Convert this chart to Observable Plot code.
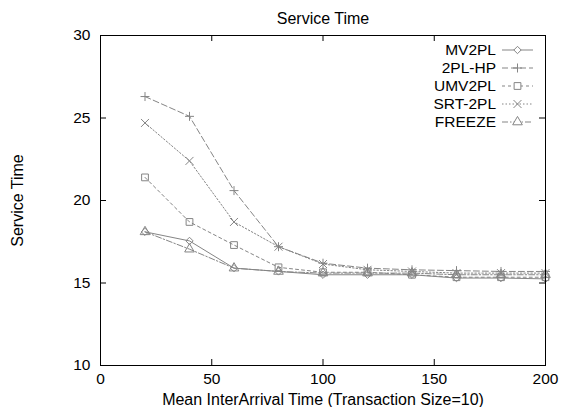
<!DOCTYPE html>
<html>
<head>
<meta charset="utf-8">
<script src="https://cdn.jsdelivr.net/npm/d3@7"></script>
<script src="https://cdn.jsdelivr.net/npm/@observablehq/plot@0.6"></script>
<style>
  html, body { margin: 0; padding: 0; background: #fff; }
  #chart { width: 578px; height: 407px; }
</style>
</head>
<body>
<div id="chart"></div>
<script>
// ---- data ----
const titleText = "Service Time";
const xLabel = "Mean InterArrival Time (Transaction Size=10)";
const yLabel = "Service Time";
const seriesNames = ["MV2PL", "2PL-HP", "UMV2PL", "SRT-2PL", "FREEZE"];
const interArrival = [20, 40, 60, 80, 100, 120, 140, 160, 180, 200];
const mv2pl   = [18.1, 17.55, 15.9, 15.7, 15.5, 15.5, 15.5, 15.3, 15.3, 15.25];
const pl2hp   = [26.3, 25.1, 20.6, 17.2, 16.2, 15.9, 15.8, 15.75, 15.7, 15.7];
const umv2pl  = [21.4, 18.7, 17.3, 15.95, 15.65, 15.65, 15.5, 15.35, 15.35, 15.35];
const srt2pl  = [24.7, 22.4, 18.7, 17.2, 16.15, 15.8, 15.7, 15.6, 15.6, 15.6];
const freeze  = [18.1, 17.05, 15.9, 15.7, 15.6, 15.6, 15.6, 15.5, 15.5, 15.5];
const xTicks = [0, 50, 100, 150, 200];
const yTicks = [10, 15, 20, 25, 30];

// ---- styles ----
const seriesValues = [mv2pl, pl2hp, umv2pl, srt2pl, freeze];
const symbols = ["diamond2", "plus", "square2", "times", "triangle2"];
const symbolR = [3.3, 3.0, 4.3, 3.7, 4.6];
const dashes = [null, "6,3", "3,3", "1.5,2", "6,2,1.5,2"];
const lineColor = "#858585";
const font = "'Liberation Sans', Arial, sans-serif";

const W = 578, H = 407, mL = 100, mR = 33, mT = 35, mB = 42;
const innerW = W - mL - mR, innerH = H - mT - mB;
const tickLen = 6;

const rows = [];
seriesNames.forEach((name, i) => {
  interArrival.forEach((x, j) => rows.push({series: name, x, y: seriesValues[i][j]}));
});

const seriesMarks = seriesNames.flatMap((name, i) => {
  const d = rows.filter(r => r.series === name);
  return [
    Plot.line(d, {x: "x", y: "y", stroke: lineColor, strokeWidth: 1, strokeDasharray: dashes[i]}),
    Plot.dot(d, {x: "x", y: "y", symbol: symbols[i], r: symbolR[i], stroke: lineColor, fill: "none", strokeWidth: 1})
  ];
});

const chart = Plot.plot({
  width: W, height: H,
  marginLeft: mL, marginRight: mR, marginTop: mT, marginBottom: mB,
  style: {fontFamily: font, fontSize: "15px", background: "#fff", color: "#000"},
  x: {domain: [0, 200]},
  y: {domain: [10, 30]},
  marks: [
    Plot.axisX({ticks: xTicks, tickSize: 0, tickPadding: 7, tickFormat: d => d, fontSize: 15.5,
      label: null}),
    Plot.axisX({ticks: [], tickSize: 0, fontSize: 16,
      label: xLabel, labelAnchor: "center", labelArrow: "none", labelOffset: 39}),
    Plot.axisY({ticks: yTicks, tickSize: 0, tickPadding: 10, tickFormat: d => d, fontSize: 15.5,
      label: null}),
    Plot.axisY({ticks: [], tickSize: 0, fontSize: 16,
      label: yLabel, labelAnchor: "center", labelArrow: "none", labelOffset: 89}),
    Plot.tickX(xTicks, {x: d => d, insetTop: innerH - tickLen, stroke: "#000"}),
    Plot.tickX(xTicks, {x: d => d, insetBottom: innerH - tickLen, stroke: "#000"}),
    Plot.tickY(yTicks, {y: d => d, insetRight: innerW - tickLen, stroke: "#000"}),
    Plot.tickY(yTicks, {y: d => d, insetLeft: innerW - tickLen, stroke: "#000"}),
    ...seriesMarks,
    Plot.frame({stroke: "#000"}),
    Plot.text([titleText], {frameAnchor: "top", dy: -23, fontSize: 16, text: d => d})
  ]
});

// legend (inside top-right, gnuplot style)
const d3sym = {diamond2: d3.symbolDiamond2, plus: d3.symbolPlus, square2: d3.symbolSquare2,
               times: d3.symbolTimes, triangle2: d3.symbolTriangle2};
const svg = d3.select(chart);
const lg = svg.append("g").attr("font-family", font).attr("font-size", 15.5);
const textRight = W - mR - 49, lineX1 = W - mR - 43, lineX2 = W - mR - 12, rowTop = mT + 15, rowStep = 18;
seriesNames.forEach((name, i) => {
  const yy = rowTop + i * rowStep;
  lg.append("text").attr("x", textRight).attr("y", yy).attr("dy", "0.35em")
    .attr("text-anchor", "end").attr("fill", "#000").text(name);
  lg.append("line").attr("x1", lineX1).attr("x2", lineX2).attr("y1", yy).attr("y2", yy)
    .attr("stroke", lineColor).attr("stroke-width", 1)
    .attr("stroke-dasharray", dashes[i]);
  lg.append("path")
    .attr("d", d3.symbol(d3sym[symbols[i]], Math.PI * symbolR[i] * symbolR[i])())
    .attr("transform", `translate(${(lineX1 + lineX2) / 2},${yy})`)
    .attr("fill", "#fff").attr("stroke", lineColor);
});

document.getElementById("chart").appendChild(chart);
</script>
</body>
</html>
